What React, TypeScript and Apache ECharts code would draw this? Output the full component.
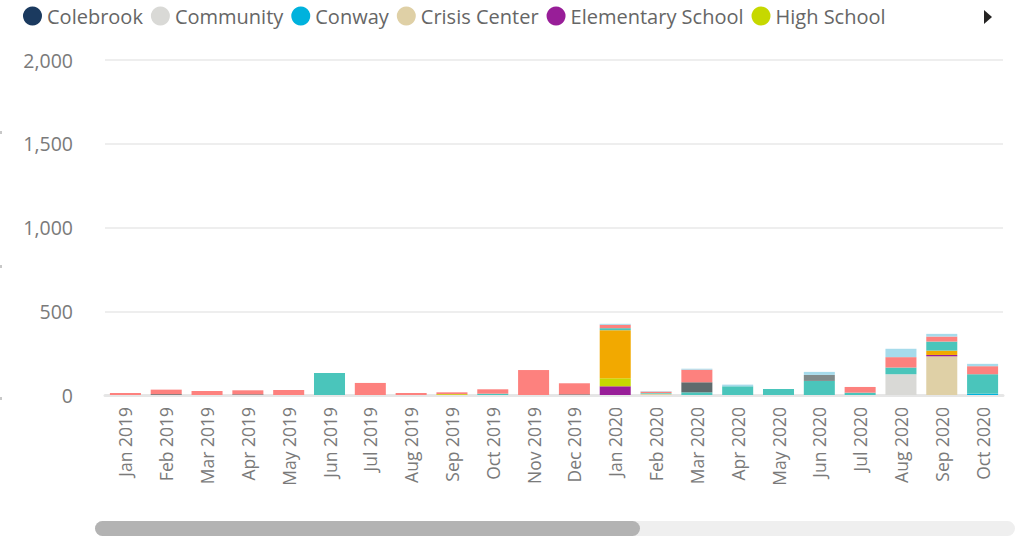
import React, { useEffect, useRef } from "react";
import * as echarts from "echarts";

const months = [
  "Jan 2019", "Feb 2019", "Mar 2019", "Apr 2019", "May 2019", "Jun 2019",
  "Jul 2019", "Aug 2019", "Sep 2019", "Oct 2019", "Nov 2019", "Dec 2019",
  "Jan 2020", "Feb 2020", "Mar 2020", "Apr 2020", "May 2020", "Jun 2020",
  "Jul 2020", "Aug 2020", "Sep 2020", "Oct 2020",
];

const colebrook =    [0, 0, 0, 0, 0, 0, 0, 0, 0, 0, 0, 0, 0, 0, 0, 0, 0, 0, 0, 0, 0, 0];
const community =    [0, 0, 0, 0, 0, 0, 0, 0, 0, 0, 0, 0, 0, 0, 0, 0, 0, 0, 0, 124, 0, 0];
const conway =       [0, 0, 0, 0, 0, 0, 0, 0, 0, 0, 0, 0, 0, 0, 0, 0, 0, 0, 0, 0, 0, 8];
const crisisCenter = [0, 0, 0, 0, 0, 0, 0, 0, 0, 0, 0, 0, 0, 8, 0, 0, 0, 0, 0, 0, 231, 0];
const elementary =   [0, 0, 0, 0, 0, 0, 0, 0, 0, 0, 0, 0, 52, 0, 0, 0, 0, 0, 0, 0, 8, 0];
const highSchool =   [0, 0, 0, 0, 0, 0, 0, 0, 5, 0, 0, 0, 48, 0, 0, 0, 0, 0, 0, 0, 0, 0];
const middleSchool = [0, 0, 0, 0, 0, 0, 0, 0, 0, 0, 0, 0, 287, 0, 0, 0, 0, 0, 0, 0, 26, 0];
const northCountry = [0, 0, 0, 0, 0, 131, 0, 0, 0, 8, 0, 0, 12, 4, 16, 52, 36, 84, 14, 40, 54, 116];
const lancaster =    [0, 5, 0, 4, 0, 0, 0, 0, 0, 0, 0, 4, 0, 0, 60, 0, 0, 0, 0, 0, 0, 0];
const jefferson =    [0, 0, 0, 0, 0, 0, 0, 0, 0, 0, 0, 0, 0, 0, 0, 0, 0, 36, 0, 0, 0, 0];
const other =        [12, 27, 24, 24, 30, 0, 72, 12, 11, 26, 149, 66, 20, 8, 75, 0, 0, 0, 34, 62, 30, 48];
const unknown =      [0, 0, 0, 0, 0, 0, 0, 0, 0, 0, 0, 0, 6, 3, 6, 10, 0, 18, 0, 50, 16, 14];

const seriesNames = [
  "Colebrook", "Community", "Conway", "Crisis Center", "Elementary School", "High School",
  "Middle School", "North Country", "Lancaster", "Jefferson", "Other", "Unknown",
];
const seriesData = [
  colebrook, community, conway, crisisCenter, elementary, highSchool,
  middleSchool, northCountry, lancaster, jefferson, other, unknown,
];
const seriesColors = [
  "#1B3A5F", "#D9D9D6", "#00B2DD", "#DFD0A6", "#981E98", "#C6D800",
  "#F2A900", "#4AC5BB", "#5F6B6D", "#818B8B", "#FD817E", "#A6DBEB",
];
const legendNames = seriesNames.slice(0, 6);
const yTicks = [0, 500, 1000, 1500, 2000];

const FONT = "'Open Sans', 'Noto Sans', sans-serif";

export default function App() {
  const ref = useRef<HTMLDivElement>(null);

  useEffect(() => {
    if (!ref.current) return;
    const chart = echarts.init(ref.current, null, { renderer: "svg" });
    chart.setOption({
      animation: false,
      backgroundColor: "#FFFFFF",
      textStyle: { fontFamily: FONT },
      legend: {
        data: legendNames,
        left: 18,
        top: 1,
        icon: "circle",
        itemWidth: 19,
        itemHeight: 19,
        itemGap: 8,
        textStyle: { fontSize: 20, color: "#666666", fontFamily: FONT },
      },
      grid: { left: 105, right: 22, top: 60, bottom: 146, containLabel: false },
      xAxis: {
        type: "category",
        data: months,
        axisTick: { show: false },
        axisLine: { show: true, lineStyle: { color: "#E6E6E6", width: 3 } },
        axisLabel: {
          rotate: 90,
          margin: 12,
          fontSize: 17.5,
          color: "#7A7A7A",
          fontFamily: FONT,
        },
      },
      yAxis: {
        type: "value",
        min: yTicks[0],
        max: yTicks[yTicks.length - 1],
        interval: 500,
        axisLine: { show: false },
        axisTick: { show: false },
        splitLine: { lineStyle: { color: "#E9E9E9", width: 1.5 } },
        axisLabel: {
          margin: 32,
          fontSize: 19.5,
          color: "#7A7A7A",
          fontFamily: FONT,
          formatter: (v: number) => v.toLocaleString("en-US"),
        },
      },
      series: seriesNames.map((name, i) => ({
        name,
        type: "bar",
        stack: "total",
        data: seriesData[i],
        barCategoryGap: "24%",
        itemStyle: { color: seriesColors[i] },
      })),
      graphic: [
        {
          type: "polygon",
          shape: { points: [[984, 10], [984, 24], [992, 17]] },
          style: { fill: "#252423" },
        },
        {
          type: "rect",
          shape: { x: 95, y: 521, width: 920, height: 15, r: 7.5 },
          style: { fill: "#EFEFEF" },
        },
        {
          type: "rect",
          shape: { x: 95, y: 521, width: 545, height: 15, r: 7.5 },
          style: { fill: "#B3B3B3" },
        },
        { type: "rect", shape: { x: 0, y: 131, width: 2, height: 3 }, style: { fill: "#C8C8C8" } },
        { type: "rect", shape: { x: 0, y: 265, width: 2, height: 3 }, style: { fill: "#C8C8C8" } },
        { type: "rect", shape: { x: 0, y: 397, width: 2, height: 3 }, style: { fill: "#C8C8C8" } },
      ],
    });
    return () => chart.dispose();
  }, []);

  return (
    <div
      ref={ref}
      style={{ position: "fixed", left: 0, top: 0, width: 1025, height: 541 }}
    />
  );
}
